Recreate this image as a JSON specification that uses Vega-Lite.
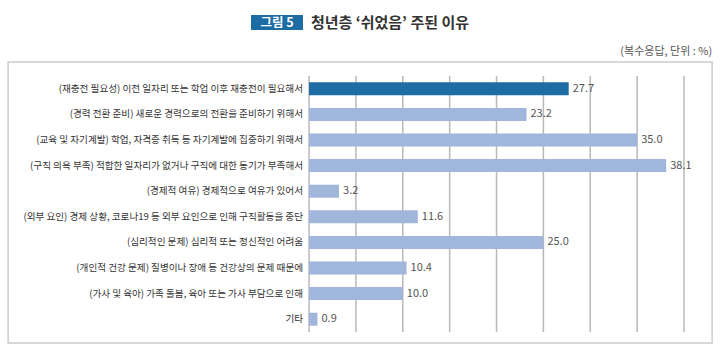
{
  "$schema": "https://vega.github.io/schema/vega-lite/v6.json",
  "padding": {"left": 7, "top": 15, "right": 0, "bottom": 0},
  "autosize": {"type": "pad"},
  "background": "white",
  "config": {"view": {"stroke": null}, "font": "Noto Sans CJK KR"},
  "datasets": {
    "reasons": [
      {"reason": "(재충전 필요성) 이전 일자리 또는 학업 이후 재충전이 필요해서", "value": 27.7},
      {"reason": "(경력 전환 준비) 새로운 경력으로의 전환을 준비하기 위해서", "value": 23.2},
      {"reason": "(교육 및 자기계발) 학업, 자격증 취득 등 자기계발에 집중하기 위해서", "value": 35.0},
      {"reason": "(구직 의욕 부족) 적합한 일자리가 없거나 구직에 대한 동기가 부족해서", "value": 38.1},
      {"reason": "(경제적 여유) 경제적으로 여유가 있어서", "value": 3.2},
      {"reason": "(외부 요인) 경제 상황, 코로나19 등 외부 요인으로 인해 구직활동을 중단", "value": 11.6},
      {"reason": "(심리적인 문제) 심리적 또는 정신적인 어려움", "value": 25.0},
      {"reason": "(개인적 건강 문제) 질병이나 장애 등 건강상의 문제 때문에", "value": 10.4},
      {"reason": "(가사 및 육아) 가족 돌봄, 육아 또는 가사 부담으로 인해", "value": 10.0},
      {"reason": "기타", "value": 0.9}
    ],
    "grid": [{"v": 0}, {"v": 5}, {"v": 10}, {"v": 15}, {"v": 20}, {"v": 25}, {"v": 30}, {"v": 35}, {"v": 40}]
  },
  "spacing": 14,
  "center": true,
  "vconcat": [
    {
      "spacing": 7,
      "hconcat": [
        {
          "width": 52,
          "height": 15,
          "data": {"values": [{"label": "그림 5"}]},
          "layer": [
            {
              "mark": {"type": "rect", "color": "#1d6ca3"},
              "encoding": {"x": {"value": 0}, "x2": {"value": "width"}, "y": {"value": 0}, "y2": {"value": "height"}}
            },
            {
              "mark": {"type": "text", "color": "white", "fontSize": 12.5, "fontWeight": "bold", "baseline": "middle"},
              "encoding": {"text": {"field": "label"}}
            }
          ]
        },
        {
          "width": 160,
          "height": 15,
          "data": {"values": [{"label": "청년층 ‘쉬었음’ 주된 이유"}]},
          "mark": {"type": "text", "fontSize": 15, "fontWeight": "bold", "color": "#333333", "baseline": "middle"},
          "encoding": {"text": {"field": "label"}}
        }
      ]
    },
    {
      "width": 704,
      "height": 281,
      "view": {"stroke": "#cccccc", "strokeWidth": 1.5},
      "title": {"text": "(복수응답, 단위 : %)", "anchor": "end", "fontSize": 11, "fontWeight": "normal", "color": "#555555", "offset": 5},
      "layer": [
        {
          "data": {"name": "grid"},
          "mark": {"type": "rule", "color": "#b8b8b8", "strokeWidth": 1.5},
          "encoding": {
            "x": {"field": "v", "type": "quantitative", "scale": {"domain": [-32.1, 43], "nice": false, "zero": false}, "axis": null},
            "y": {"datum": "(재충전 필요성) 이전 일자리 또는 학업 이후 재충전이 필요해서", "type": "nominal", "bandPosition": 0,
                  "scale": {"domain": [
                    "(재충전 필요성) 이전 일자리 또는 학업 이후 재충전이 필요해서",
                    "(경력 전환 준비) 새로운 경력으로의 전환을 준비하기 위해서",
                    "(교육 및 자기계발) 학업, 자격증 취득 등 자기계발에 집중하기 위해서",
                    "(구직 의욕 부족) 적합한 일자리가 없거나 구직에 대한 동기가 부족해서",
                    "(경제적 여유) 경제적으로 여유가 있어서",
                    "(외부 요인) 경제 상황, 코로나19 등 외부 요인으로 인해 구직활동을 중단",
                    "(심리적인 문제) 심리적 또는 정신적인 어려움",
                    "(개인적 건강 문제) 질병이나 장애 등 건강상의 문제 때문에",
                    "(가사 및 육아) 가족 돌봄, 육아 또는 가사 부담으로 인해",
                    "기타"], "paddingInner": 0, "paddingOuter": 0.488, "align": 0.56},
                  "axis": null},
            "y2": {"datum": "기타", "bandPosition": 1}
          }
        },
        {
          "data": {"name": "reasons"},
          "mark": {"type": "bar", "size": 13},
          "encoding": {
            "x": {"field": "value", "type": "quantitative"},
            "y": {"field": "reason", "type": "nominal", "sort": null},
            "color": {"condition": {"test": "datum.reason === '(재충전 필요성) 이전 일자리 또는 학업 이후 재충전이 필요해서'", "value": "#1d6ca3"}, "value": "#a0b6da"}
          }
        },
        {
          "data": {"name": "reasons"},
          "mark": {"type": "text", "align": "left", "baseline": "middle", "dx": 4, "fontSize": 11, "color": "#555555"},
          "encoding": {
            "x": {"field": "value", "type": "quantitative"},
            "y": {"field": "reason", "type": "nominal", "sort": null},
            "text": {"field": "value", "type": "quantitative", "format": ".1f"}
          }
        },
        {
          "data": {"name": "reasons"},
          "mark": {"type": "text", "align": "right", "baseline": "middle", "dx": -6, "fontSize": 9.6, "color": "#333333"},
          "encoding": {
            "x": {"datum": 0, "type": "quantitative"},
            "y": {"field": "reason", "type": "nominal", "sort": null},
            "text": {"field": "reason", "type": "nominal"}
          }
        }
      ]
    }
  ]
}
